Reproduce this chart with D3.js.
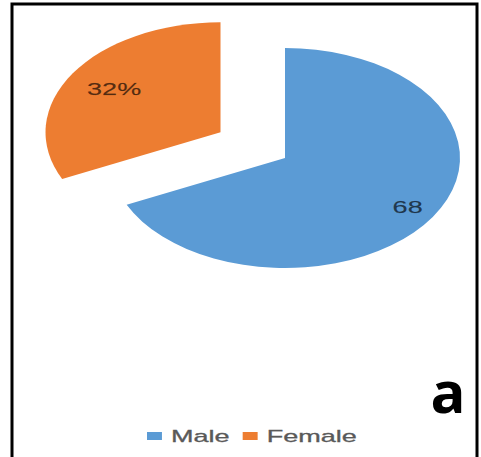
<!DOCTYPE html>
<html>
<head>
<meta charset="utf-8">
<script src="https://cdn.jsdelivr.net/npm/d3@7"></script>
<style>
  html, body { margin: 0; padding: 0; background: #fff; }
  svg { display: block; }
</style>
</head>
<body>
<svg id="chart" width="481" height="457"></svg>
<script>
// ---- data ----
const categories = ["Male", "Female"];
const values = [68, 32];
const labels = ["68", "32%"];
const colors = ["#5B9BD5", "#ED7D31"];
const panelLetter = "a";

// ---- layout / style ----
const W = 481, H = 457;
const cx = 285, cy = 158;
const r = 110;            // vertical radius
const sx = 175 / 110;     // horizontal stretch of original image
const explode = [0, 48];
const labelR = [0.83, 0.72];

const svg = d3.select("#chart");

// border
svg.append("rect")
  .attr("x", 12).attr("y", 4)
  .attr("width", 465).attr("height", 470)
  .attr("fill", "none").attr("stroke", "#000").attr("stroke-width", 3);

const pie = d3.pie().sort(null).value(d => d)(values);
const arc = d3.arc().innerRadius(0).outerRadius(r);

const g = svg.append("g")
  .attr("transform", `translate(${cx},${cy}) scale(${sx},1)`);

pie.forEach((p, i) => {
  const mid = (p.startAngle + p.endAngle) / 2;
  const ox = Math.sin(mid) * explode[i];
  const oy = -Math.cos(mid) * explode[i];
  const sg = g.append("g").attr("transform", `translate(${ox},${oy})`);
  sg.append("path").attr("d", arc(p)).attr("fill", colors[i]);
  const lr = r * labelR[i];
  sg.append("text")
    .attr("x", Math.sin(mid) * lr)
    .attr("y", -Math.cos(mid) * lr)
    .attr("text-anchor", "middle")
    .attr("dominant-baseline", "central")
    .attr("font-family", "Liberation Sans, Arial, sans-serif")
    .attr("font-size", 17)
    .attr("fill", "#000")
    .attr("fill-opacity", 0.65)
    .attr("stroke", "#000")
    .attr("stroke-opacity", 0.25)
    .attr("stroke-width", 0.4)
    .text(labels[i]);
});

// legend
const lg = svg.append("g")
  .attr("transform", `translate(147,436) scale(${sx},1)`);
let x = 0;
categories.forEach((c, i) => {
  lg.append("rect")
    .attr("x", x).attr("y", -4)
    .attr("width", 9.4).attr("height", 8)
    .attr("fill", colors[i]);
  x += 9.4 + 5.7;
  const t = lg.append("text")
    .attr("x", x).attr("y", 0)
    .attr("dominant-baseline", "central")
    .attr("font-family", "Liberation Sans, Arial, sans-serif")
    .attr("font-size", 17)
    .attr("fill", "#595959")
    .attr("stroke", "#595959")
    .attr("stroke-width", 0.3)
    .text(c);
  x += t.node().getComputedTextLength() + 8.2;
});

// panel letter
svg.append("text")
  .attr("x", 448).attr("y", 413)
  .attr("text-anchor", "middle")
  .attr("font-family", "Open Sans, sans-serif")
  .attr("font-weight", "bold")
  .attr("font-size", 58)
  .attr("fill", "#000")
  .text(panelLetter);
</script>
</body>
</html>
